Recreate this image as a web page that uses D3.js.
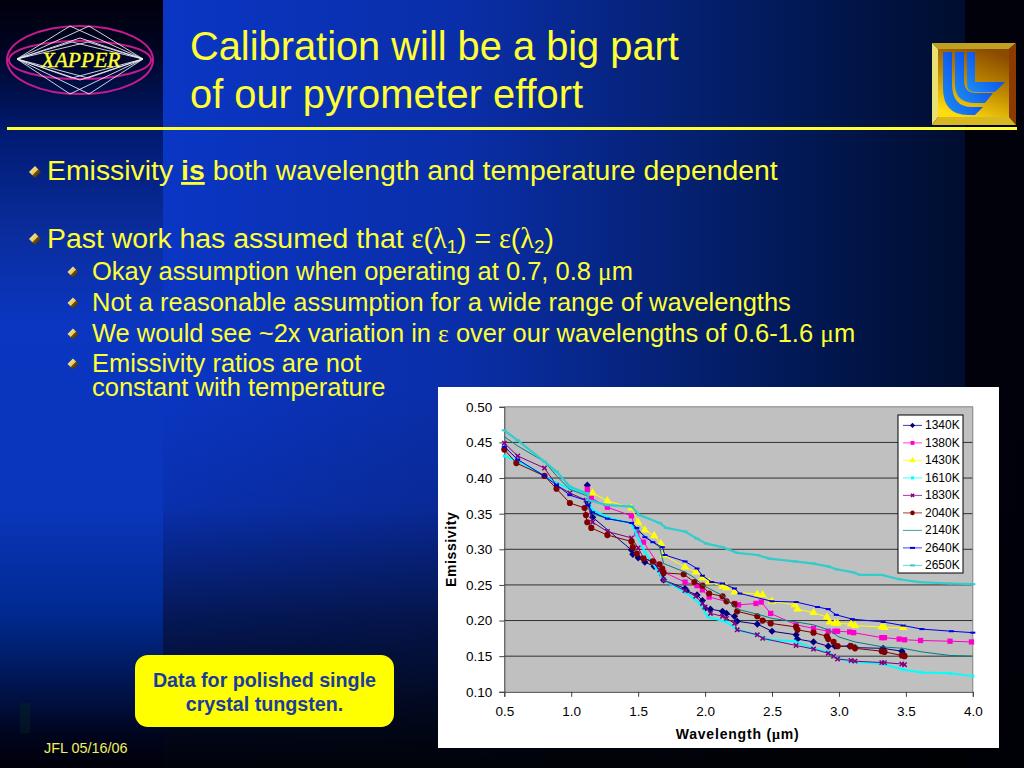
<!DOCTYPE html>
<html><head><meta charset="utf-8">
<script src="https://cdn.jsdelivr.net/npm/d3@7"></script>
<style>html,body{margin:0;padding:0;background:#000;overflow:hidden}svg{display:block}</style>
</head><body><svg id="s" width="1024" height="768"></svg>
<script>
const xTicks=[0.5,1.0,1.5,2.0,2.5,3.0,3.5,4.0];
const yTicks=[0.10,0.15,0.20,0.25,0.30,0.35,0.40,0.45,0.50];
const seriesNames=["1340K","1380K","1430K","1610K","1830K","2040K","2140K","2640K","2650K"];
const seriesColors=["#000080","#ff00cc","#ffff00","#00ffff","#800080","#800000","#008080","#0000e0","#33cccc"];
const seriesMarkers=["diamond","square","triangle","tiny","cross","circle","plus","dash","dash"];

const wl1340=[1.12,1.125,1.16,1.45,1.46,1.5,1.55,1.62,1.68,1.69,1.85,1.86,1.94,1.98,2.0,2.04,2.13,2.16,2.22,2.24,2.39,2.5,2.68,2.69,2.81,2.92,2.97,3.08,3.12,3.33,3.47,3.48];
const em1340=[.39,.365,.345,.299,.293,.288,.282,.276,.264,.257,.245,.242,.236,.228,.217,.216,.213,.21,.206,.199,.195,.185,.18,.174,.17,.164,.164,.164,.162,.161,.157,.153];
const wl1380=[1.12,1.15,1.27,1.45,1.49,1.54,1.69,1.85,1.94,1.98,2.03,2.22,2.25,2.38,2.42,2.49,2.68,2.81,2.92,2.97,2.99,3.08,3.11,3.32,3.34,3.45,3.49,3.61,3.83,3.99];
const em1380=[.384,.372,.359,.347,.322,.31,.268,.254,.249,.243,.233,.224,.222,.224,.226,.21,.194,.189,.185,.185,.185,.184,.183,.176,.176,.174,.173,.172,.171,.17];
const wl1430=[1.16,1.27,1.45,1.5,1.55,1.62,1.67,1.69,1.85,1.93,1.98,2.03,2.13,2.16,2.22,2.39,2.43,2.5,2.67,2.69,2.81,2.91,2.93,2.97,2.99,3.09,3.12,3.32,3.34,3.48];
const em1430=[.379,.368,.358,.338,.327,.319,.308,.292,.275,.268,.26,.254,.248,.246,.24,.237,.236,.227,.222,.216,.211,.205,.198,.196,.196,.195,.193,.191,.19,.19];
const wl1610=[.5,.6,.8,.89,.99,1.12,1.125,1.16,1.27,1.45,1.49,1.55,1.61,1.69,1.85,1.96,2.02,2.16,2.24,2.39,2.48,2.67,2.81,2.92,2.99,3.1,3.33,3.48,3.62,3.83,4.0];
const em1610=[.431,.424,.403,.393,.385,.378,.368,.355,.345,.336,.32,.296,.28,.257,.24,.224,.205,.198,.187,.18,.173,.171,.161,.156,.147,.142,.139,.131,.127,.126,.122];
const wl1830=[.5,.6,.8,.89,.99,1.11,1.125,1.16,1.27,1.45,1.5,1.54,1.61,1.66,1.69,1.85,1.93,1.98,2.0,2.04,2.13,2.16,2.22,2.24,2.39,2.43,2.68,2.81,2.92,2.96,2.99,3.09,3.12,3.32,3.34,3.47,3.49];
const em1830=[.449,.431,.414,.39,.379,.369,.362,.338,.325,.316,.302,.288,.282,.271,.257,.242,.234,.224,.219,.21,.206,.203,.196,.187,.18,.175,.165,.16,.154,.15,.146,.144,.143,.141,.141,.139,.138];
const wl2040=[.5,.59,.8,.89,.99,1.1,1.11,1.12,1.15,1.27,1.45,1.46,1.49,1.54,1.61,1.66,1.68,1.69,1.84,1.92,1.98,2.03,2.13,2.16,2.22,2.24,2.39,2.43,2.49,2.68,2.69,2.81,2.91,2.92,2.96,2.99,3.09,3.12,3.32,3.34,3.47,3.49];
const em2040=[.44,.421,.403,.385,.365,.358,.348,.338,.33,.32,.311,.303,.294,.287,.283,.279,.273,.267,.265,.254,.249,.238,.234,.227,.223,.213,.206,.2,.196,.191,.187,.183,.178,.174,.17,.164,.164,.161,.157,.156,.151,.15];
const wl2140=[.5,.6,.8,.89,.99,1.12,1.125,1.16,1.27,1.45,1.49,1.66,1.69,1.85,1.92,1.98,2.13,2.24,2.41,2.5,2.68,2.81,2.92,3.0,3.12,3.33,3.48,3.62,3.83,4.0];
const em2140=[.458,.445,.423,.403,.384,.375,.36,.35,.343,.337,.327,.303,.28,.268,.26,.25,.235,.216,.208,.203,.198,.194,.187,.177,.17,.163,.161,.156,.151,.15];
const wl2640=[.5,.6,.8,.89,.99,1.12,1.125,1.16,1.27,1.45,1.49,1.55,1.61,1.68,1.7,1.85,1.94,1.98,2.05,2.13,2.22,2.26,2.5,2.68,2.84,2.92,2.98,3.1,3.33,3.48,3.62,3.84,4.0];
const em2640=[.444,.426,.403,.39,.376,.368,.362,.352,.343,.337,.33,.317,.31,.303,.292,.283,.273,.263,.254,.252,.245,.238,.227,.226,.219,.216,.208,.202,.198,.193,.188,.185,.183];
const wl2650=[.5,.6,.8,.89,.99,1.12,1.125,1.27,1.45,1.51,1.66,1.71,1.85,1.94,2.01,2.13,2.24,2.39,2.48,2.67,2.81,2.92,2.98,3.1,3.16,3.32,3.45,3.6,3.83,4.0];
const em2650=[.467,.453,.423,.409,.388,.378,.369,.362,.36,.348,.337,.33,.325,.315,.308,.303,.295,.292,.287,.283,.28,.276,.272,.268,.264,.264,.258,.254,.252,.251];
const wavelengths=[wl1340,wl1380,wl1430,wl1610,wl1830,wl2040,wl2140,wl2640,wl2650];
const emissivities=[em1340,em1380,em1430,em1610,em1830,em2040,em2140,em2640,em2650];

const svg=d3.select("#s"), defs=svg.append("defs");
function grad(id,stops,x2=0,y2=1,x1=0,y1=0){
  const g=defs.append("linearGradient").attr("id",id).attr("x1",x1).attr("y1",y1).attr("x2",x2).attr("y2",y2);
  stops.forEach(s=>g.append("stop").attr("offset",s[0]).attr("stop-color",s[1]).attr("stop-opacity",s[2]===undefined?1:s[2]));
}
grad("left",[[0,"#00000c"],[.06,"#000420"],[.17,"#001a70"],[.3,"#0a2c9c"],[.42,"#0a36c0"],[.66,"#0a36bc"],[.8,"#002a90"],[.88,"#001858"],[.96,"#00041c"],[1,"#000008"]]);
grad("main",[[0,"#0a36c4"],[.35,"#0a2ea8"],[.62,"#04206e"],[.86,"#00113c"],[1,"#000a24"]],1,0);
grad("fade",[[0,"#000",0],[.5,"#000",0],[.66,"#000",.12],[.8,"#000",.55],[.92,"#000",.82],[1,"#000",.95]]);
svg.append("rect").attr("width",1024).attr("height",768).attr("fill","#000");
svg.append("rect").attr("x",163).attr("width",861).attr("height",768).attr("fill","url(#main)");
svg.append("rect").attr("x",163).attr("width",861).attr("height",768).attr("fill","url(#fade)");
svg.append("rect").attr("x",965).attr("width",59).attr("height",768).attr("fill","#000008").attr("opacity",.9);
svg.append("rect").attr("width",163).attr("height",768).attr("fill","url(#left)");
svg.append("rect").attr("x",20).attr("y",703).attr("width",10).attr("height",30).attr("fill","#0a2a20").attr("opacity",.35);

// left logo
const logo=svg.append("g");
[[73,34],[71,19]].forEach(r=>logo.append("ellipse").attr("cx",80).attr("cy",60).attr("rx",r[0]).attr("ry",r[1]).attr("fill","none").attr("stroke","#c81a8c").attr("stroke-width",2));
[[[17,59],[89,26],[143,59],[70,94]],[[17,59],[70,26],[143,59],[89,94]],[[17,59],[80,38],[143,59],[80,80]],[[17,59],[72,42],[143,59],[88,78]],[[17,59],[88,42],[143,59],[72,78]]].forEach(p=>
  logo.append("polygon").attr("points",p.join(" ")).attr("fill","none").attr("stroke","#e8e8f0").attr("stroke-width",.9));
logo.append("text").attr("x",81).attr("y",67).attr("text-anchor","middle").attr("font-family","Liberation Serif").attr("font-style","italic").attr("font-size",21.5).attr("fill","#ffff33").attr("stroke","#ffff33").attr("stroke-width",.35).text("XAPPER");

// right logo
grad("frameIn",[[0,"#8a4a00"],[.5,"#c08a00"],[1,"#ffdc10"]],.3,1,.7,0);
grad("ll",[[0,"#1e90f0"],[.5,"#1060f0"],[1,"#0a28e0"]],1,0,0,1);
const rl=svg.append("g");
rl.append("polygon").attr("points","932,43 1016,43 1009,49 938,49").attr("fill","#c0a020");
rl.append("polygon").attr("points","932,43 938,49 938,117 932,125").attr("fill","#e8e070");
rl.append("polygon").attr("points","1016,43 1009,49 1009,117 1016,125").attr("fill","#8a3c00");
rl.append("polygon").attr("points","932,125 938,117 1009,117 1016,125").attr("fill","#d8b820");
rl.append("rect").attr("x",938).attr("y",49).attr("width",71).attr("height",68).attr("fill","url(#frameIn)");
["M943 52H952V84Q952 107 972 107H983L975 115H968Q943 115 943 88Z",
 "M955 52H964V80Q964 93 976 93H993L985 103H975Q955 103 955 84Z",
 "M967 52H975V82H1005L995 92H975Q967 92 967 84Z"].forEach(d=>rl.append("path").attr("d",d).attr("fill","url(#ll)"));

// rule
svg.append("rect").attr("x",7).attr("y",127).attr("width",1010).attr("height",3).attr("fill","#ffff33");

// text
const SANS="Liberation Sans", YEL="#ffff33";
function line(x,y,size,parts,fill=YEL){
  const t=svg.append("text").attr("x",x).attr("y",y).attr("font-family",SANS).attr("font-size",size).attr("fill",fill).attr("xml:space","preserve");
  parts.forEach(p=>{
    if(typeof p==="string"){t.append("tspan").text(p);return;}
    const s=t.append("tspan").text(p.t);
    if(p.sym)s.attr("font-family","Liberation Serif");
    if(p.b)s.attr("font-weight","bold");
    if(p.u)s.attr("text-decoration","underline");
    if(p.dy)s.attr("dy",p.dy);
    if(p.small)s.attr("font-size",size*.66);
  });
  return t;
}
line(190,60,39.8,["Calibration will be a big part"]);
line(190,108,39.8,["of our pyrometer effort"]);
line(47,180,28.4,["Emissivity ",{t:"is",b:1,u:1}," both wavelength and temperature dependent"]);
line(47,248,28.4,["Past work has assumed that ",{t:"ε",sym:1},"(",{t:"λ",sym:1},{t:"1",dy:5,small:1},{t:") = ",dy:-5},{t:"ε",sym:1},"(",{t:"λ",sym:1},{t:"2",dy:5,small:1},{t:")",dy:-5}]);
line(92,280,25.5,["Okay assumption when operating at 0.7, 0.8 ",{t:"μ",sym:1},"m"]);
line(92,311,25.5,["Not a reasonable assumption for a wide range of wavelengths"]);
line(92,342,25.5,["We would see ~2x variation in ",{t:"ε",sym:1}," over our wavelengths of 0.6-1.6 ",{t:"μ",sym:1},"m"]);
line(92,372,25.5,["Emissivity ratios are not"]);
line(92,396,25.5,["constant with temperature"]);
line(44,753,14.4,["JFL 05/16/06"],"#f0f060");

// bullets
grad("bul",[[0,"#fff8d0"],[.5,"#e8c850"],[.55,"#705010"],[1,"#281800"]],1,1);
[[35,172,6],[35,239,6],[73,272,5.5],[73,303,5.5],[73,334,5.5],[73,364,5.5]].forEach(b=>{
  const [x,y,r]=b;
  svg.append("path").attr("d",d3.line()([[x-r,y],[x,y-r],[x+r,y],[x,y+r]])+"Z").attr("fill","url(#bul)");
});

// callout
svg.append("rect").attr("x",135).attr("y",655).attr("width",259).attr("height",72).attr("rx",13).attr("fill","#ffff00");
[["Data for polished single",687],["crystal tungsten.",711]].forEach(d=>
  svg.append("text").attr("x",264.5).attr("y",d[1]).attr("text-anchor","middle").attr("font-family",SANS).attr("font-weight","bold").attr("font-size",19.7).attr("fill","#1a3c9c").text(d[0]));

// chart
svg.append("rect").attr("x",438).attr("y",387).attr("width",561).attr("height",361).attr("fill","#fff");
const x=d3.scaleLinear().domain([0.5,4.0]).range([504.3,972.8]);
const y=d3.scaleLinear().domain([0.10,0.50]).range([691.8,406.8]);
const chart=svg.append("g");
chart.append("rect").attr("x",x(.5)).attr("y",y(.5)).attr("width",x(4)-x(.5)).attr("height",y(.1)-y(.5)).attr("fill","#c0c0c0");
chart.selectAll("line.g").data(yTicks.filter(v=>v>0.1&&v<0.5)).join("line").attr("x1",x(.5)).attr("x2",x(4)).attr("y1",y).attr("y2",y).attr("stroke","#303030").attr("stroke-width",1);
chart.append("path").attr("d",`M${x(.5)} ${y(.5)}H${x(4)}V${y(.1)}`).attr("fill","none").attr("stroke","#808080").attr("stroke-width",1);
const ax=chart.append("g").attr("transform",`translate(0,${y(.1)})`).call(d3.axisBottom(x).tickValues(xTicks).tickFormat(d3.format(".1f")).tickSizeOuter(0).tickSize(5).tickPadding(10));
const ay=chart.append("g").attr("transform",`translate(${x(.5)},0)`).call(d3.axisLeft(y).tickValues(yTicks).tickFormat(d3.format(".2f")).tickSizeOuter(0).tickSize(5).tickPadding(7));
[ax,ay].forEach(a=>{a.selectAll("text").attr("font-family",SANS).attr("font-size",13.5).attr("fill","#000");a.selectAll("line,path").attr("stroke","#404040");});
chart.append("text").attr("transform",`translate(456,${(y(.1)+y(.5))/2}) rotate(-90)`).attr("text-anchor","middle").attr("font-family",SANS).attr("font-weight","bold").attr("font-size",14).attr("letter-spacing",.6).text("Emissivity");
const xl=chart.append("text").attr("x",x(2.25)-1).attr("y",739).attr("text-anchor","middle").attr("font-family",SANS).attr("font-weight","bold").attr("font-size",14).attr("letter-spacing",.8);
xl.append("tspan").text("Wavelength (");xl.append("tspan").attr("font-family","Liberation Serif").text("μ");xl.append("tspan").text("m)");

function marker(g,kind,color,k=1){
  const sym={square:[d3.symbolSquare,28],triangle:[d3.symbolTriangle,30],circle:[d3.symbolCircle,30]}[kind];
  if(sym){g.append("path").attr("d",d3.symbol().type(sym[0]).size(sym[1]*k)()).attr("fill",color);}
  else if(kind==="diamond"){g.append("path").attr("transform","rotate(45)").attr("d",d3.symbol().type(d3.symbolSquare).size(26*k)()).attr("fill",color);}
  else if(kind==="cross"){g.append("path").attr("d",d3.symbol().type(d3.symbolTimes).size(14*k)()).attr("fill","none").attr("stroke",color).attr("stroke-width",1.5);}
  else if(kind==="plus"){g.append("path").attr("d",d3.symbol().type(d3.symbolPlus).size(14*k)()).attr("fill",color);}
  else if(kind==="dash"){g.append("rect").attr("x",-2.5).attr("y",-1).attr("width",5).attr("height",2).attr("fill",color);}
  else {g.append("rect").attr("x",-1.5).attr("y",-1.5).attr("width",3).attr("height",3).attr("fill",color);}
}
const ln=d3.line().x(d=>x(d[0])).y(d=>y(d[1]));
seriesNames.forEach((n,i)=>{
  const pts=d3.zip(wavelengths[i],emissivities[i]);
  const g=chart.append("g");
  const thick=i===8?2.2:(i===3?2:1);
  g.append("path").attr("d",ln(pts)).attr("fill","none").attr("stroke",seriesColors[i]).attr("stroke-width",thick);
  pts.forEach(p=>marker(g.append("g").attr("transform",`translate(${x(p[0])},${y(p[1])})`),seriesMarkers[i],seriesColors[i]));
});

// legend
const lg=chart.append("g").attr("transform","translate(898,415)");
lg.append("rect").attr("width",65).attr("height",158).attr("fill","#fff").attr("stroke","#000").attr("stroke-width",1);
const ly=d3.scalePoint().domain(seriesNames).range([10.4,150.4]);
seriesNames.forEach((n,i)=>{
  const r=lg.append("g").attr("transform",`translate(0,${ly(n)})`);
  r.append("line").attr("x1",5).attr("x2",24).attr("stroke",seriesColors[i]).attr("stroke-width",1).attr("opacity",.75);
  marker(r.append("g").attr("transform","translate(14.5,0)"),seriesMarkers[i],seriesColors[i],.55);
  r.append("text").attr("x",27).attr("y",4).attr("font-family",SANS).attr("font-size",12).text(n);
});
</script></body></html>
